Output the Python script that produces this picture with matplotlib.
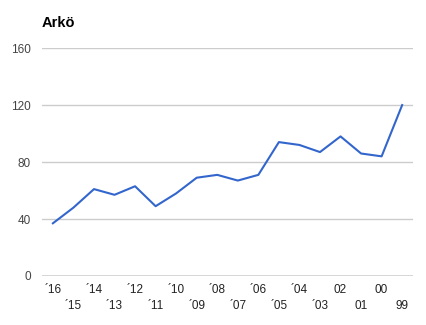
import matplotlib
matplotlib.use('Agg')
import matplotlib.pyplot as plt

# data, newest year first
years = ['´16', '´15', '´14', '´13', '´12', '´11', '´10', '´09', '´08',
         '´07', '´06', '´05', '´04', '´03', '02', '01', '00', '99']
values = [37, 48, 61, 57, 63, 49, 58, 69, 71,
          67, 71, 94, 92, 87, 98, 86, 84, 120]
y_ticks = [0, 40, 80, 120, 160]

plt.rcParams['font.family'] = ['Liberation Sans', 'DejaVu Sans']

fig = plt.figure(figsize=(4.26, 3.25), dpi=100)
ax = fig.add_axes([0.0986, 0.1508, 0.871, 0.7012])

x = list(range(len(values)))
ax.plot(x, values, color='#3366cc', linewidth=1.5, zorder=3)

ax.set_ylim(0, 160)
ax.set_xlim(-0.53, len(values) - 0.47)
ax.set_yticks(y_ticks)
ax.set_yticklabels([str(t) for t in y_ticks])
for t in y_ticks[1:]:
    ax.axhline(t, color='#cccccc', linewidth=1, zorder=1)
ax.axhline(0, color='#333333', linewidth=1, zorder=2)

# alternating two rows of year labels
even = x[0::2]
odd = x[1::2]
ax.set_xticks(even)
ax.set_xticklabels(years[0::2])
ax.set_xticks(odd, minor=True)
ax.set_xticklabels(years[1::2], minor=True)
ax.tick_params(axis='x', which='major', length=0, pad=6, labelsize=8.5, colors='#222222')
ax.tick_params(axis='x', which='minor', length=0, pad=17, labelsize=8.5, colors='#222222')
ax.tick_params(axis='y', length=0, pad=8, labelsize=8.5, colors='#444444')

for s in ax.spines.values():
    s.set_visible(False)

fig.text(0.0986, 0.93, 'Arkö', fontsize=10.5, fontweight='bold', ha='left', va='center')

fig.savefig('out.png', dpi=100)
